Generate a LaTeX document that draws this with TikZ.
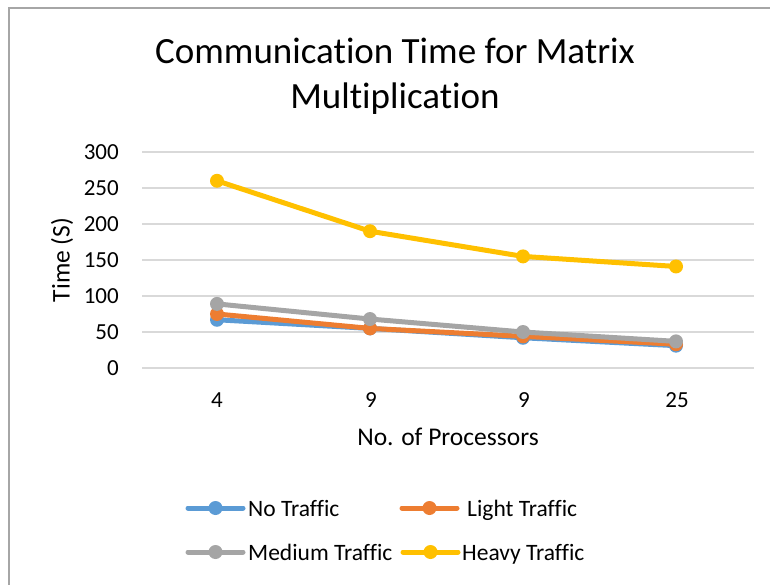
\documentclass[tikz,border=0pt]{standalone}
\usepackage{fontspec}
\setmainfont{Carlito}[Ligatures=NoCommon]
\definecolor{cblue}{HTML}{5B9BD5}
\definecolor{corange}{HTML}{ED7D31}
\definecolor{cgray}{HTML}{A5A5A5}
\definecolor{cyellow}{HTML}{FFC000}
\definecolor{cgrid}{HTML}{D9D9D9}
\definecolor{cframe}{HTML}{A6A6A6}
\tikzset{
  frameline/.style={draw=cframe, line width=2pt},
  gridline/.style={draw=cgrid, line width=1.5pt},
  ticklab/.style={font=\fontsize{23}{27}\selectfont, inner sep=0pt},
  axtitle/.style={font=\fontsize{25.5}{30}\selectfont, inner sep=0pt},
  titlestyle/.style={font=\fontsize{37}{45}\selectfont, align=center, inner sep=0pt},
  leglab/.style={font=\fontsize{23.5}{27}\selectfont, inner sep=0pt, anchor=base west},
  series/.style={line width=5pt, line join=round, line cap=round},
  mk/.style={circle, inner sep=0pt, minimum size=14pt},
}
\begin{document}
\begin{tikzpicture}[x=1pt, y=-1pt]
\useasboundingbox (0,0) rectangle (770,585);
\coordinate (fbl) at (8.5,585);
\coordinate (ftl) at (8.5,8.5);
\coordinate (ftr) at (770,8.5);
\draw[frameline] (fbl) -- (ftl) -- (ftr);
% title
\node[titlestyle] (title) at (395,76) {Communication Time for Matrix\\Multiplication};
% grid and y tick labels
\foreach \v [count=\i] in {0,50,100,150,200,250,300}{
  \coordinate (gl\i) at (142,{368-0.72*\v});
  \coordinate (gr\i) at (754,{368-0.72*\v});
  \draw[gridline] (gl\i) -- (gr\i);
  \node[ticklab, anchor=east] (yt\i) at (119,{368-0.72*\v}) {\v};
}
% x tick labels
\node[ticklab] (xt1) at (217,400) {4};
\node[ticklab] (xt2) at (371,400) {9};
\node[ticklab] (xt3) at (524,400) {9};
\node[ticklab] (xt4) at (677,400) {25};
% axis titles
\node[axtitle] (xtitle) at (448,437) {No. of Processors};
\node[axtitle, rotate=90] (ytitle) at (62,260) {Time (S)};
% data
\begin{scope}[shift={(64,368)}, x=153pt, y=0.72pt]
  \foreach \name/\col/\a/\b/\c/\d in {no/cblue/67/55/42/31, li/corange/75/55/44/33, me/cgray/89/68/50/37, he/cyellow/260/190/155/141}{
    \coordinate (\name1) at (1,\a);
    \coordinate (\name2) at (2,\b);
    \coordinate (\name3) at (3,\c);
    \coordinate (\name4) at (4,\d);
    \draw[series, draw=\col] (\name1) -- (\name2) -- (\name3) -- (\name4);
    \foreach \k in {1,2,3,4}{
      \node[mk, fill=\col] (\name m\k) at (\name\k) {};
    }
  }
\end{scope}
% legend
\foreach \name/\col/\x/\y in {lno/cblue/188/508, lli/corange/402/508, lme/cgray/188/552, lhe/cyellow/403/552}{
  \coordinate (\name a) at (\x,\y);
  \coordinate (\name b) at (\x+55,\y);
  \draw[series, draw=\col] (\name a) -- (\name b);
  \node[mk, fill=\col] (\name m) at (\x+27.5,\y) {};
}
\node[leglab] (lnot) at (248,516.5) {No Traffic};
\node[leglab] (llit) at (467,516.5) {Light Traffic};
\node[leglab] (lmet) at (248,560.5) {Medium Traffic};
\node[leglab] (lhet) at (462,560.5) {Heavy Traffic};
\end{tikzpicture}
\end{document}
